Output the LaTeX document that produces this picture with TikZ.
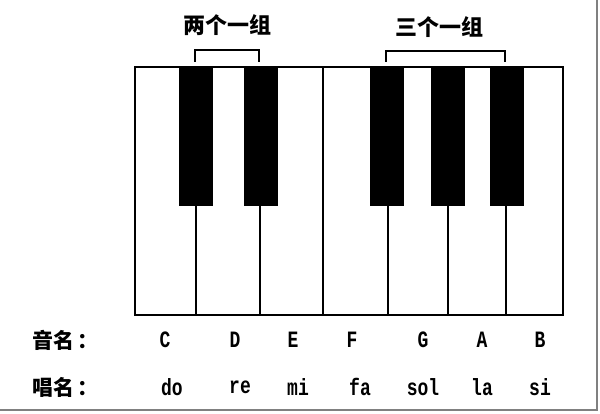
\documentclass[tikz,border=0pt]{standalone}
\usepackage{fontspec}
\setmonofont{Liberation Mono}
\newfontfamily\cjk{Noto Sans CJK SC}
\newcommand\tallnote[1]{\scalebox{1}[1.3]{#1}}
\tikzset{
  whitekey/.style={draw=black, fill=white, line width=2pt},
  blackkey/.style={fill=black, draw=black, line width=1pt},
  brace/.style={draw=black, line width=1.6pt},
  title/.style={font=\cjk\bfseries\fontsize{22}{24}\selectfont, inner sep=0pt},
  rowlabel/.style={font=\cjk\bfseries\fontsize{21}{23}\selectfont, inner sep=0pt, anchor=west},
  note/.style={font=\ttfamily\bfseries\fontsize{18}{20}\selectfont, inner sep=0pt},
  frame/.style={draw=black!50, line width=2.5pt}
}
\begin{document}
\begin{tikzpicture}[x=1pt,y=-1pt]
\useasboundingbox (0,0) rectangle (600,414);
\fill[white] (0,0) rectangle (600,414);
\draw[frame] (0,410) -- (597,410) -- (597,0);
% white keys
\foreach \a/\b in {135/196,196/260,260/323,323/388,388/448,448/506,506/563}
  \draw[whitekey] (\a,67) rectangle (\b,315);
% black keys
\foreach \c in {195.5,260.5,387,447.5,506.5}
  \filldraw[blackkey] (\c-16.5,67) rectangle (\c+16.5,206);
% brackets
\coordinate (b1a) at (195,62);
\coordinate (b1b) at (259,62);
\coordinate (b2a) at (386,62);
\coordinate (b2b) at (505,62);
\draw[brace] (b1a) -- ++(0,-12) -| (b1b);
\draw[brace] (b2a) -- ++(0,-11) -| (b2b);
\node[title] (t1) at (227,25) {两个一组};
\node[title] (t2) at (439,27) {三个一组};
% row labels
\node[rowlabel] (l1) at (32,340) {音名\hspace{3pt}：};
\node[rowlabel] (l2) at (32,387) {唱名\hspace{3pt}：};
% note names
\foreach \x/\t/\n in {165/C/nC,235/D/nD,293/E/nE,352/F/nF,423/G/nG,482/A/nA,540/B/nB}
  \node[note] (\n) at (\x,340) {\tallnote{\t}};
\foreach \x/\t/\n in {172/do/sdo,240/re/sre,298/mi/smi,360/fa/sfa,423/sol/ssol,482/la/sla,540/si/ssi}
  \node[note] (\n) at (\x,387) {\tallnote{\t}};
\end{tikzpicture}
\end{document}
